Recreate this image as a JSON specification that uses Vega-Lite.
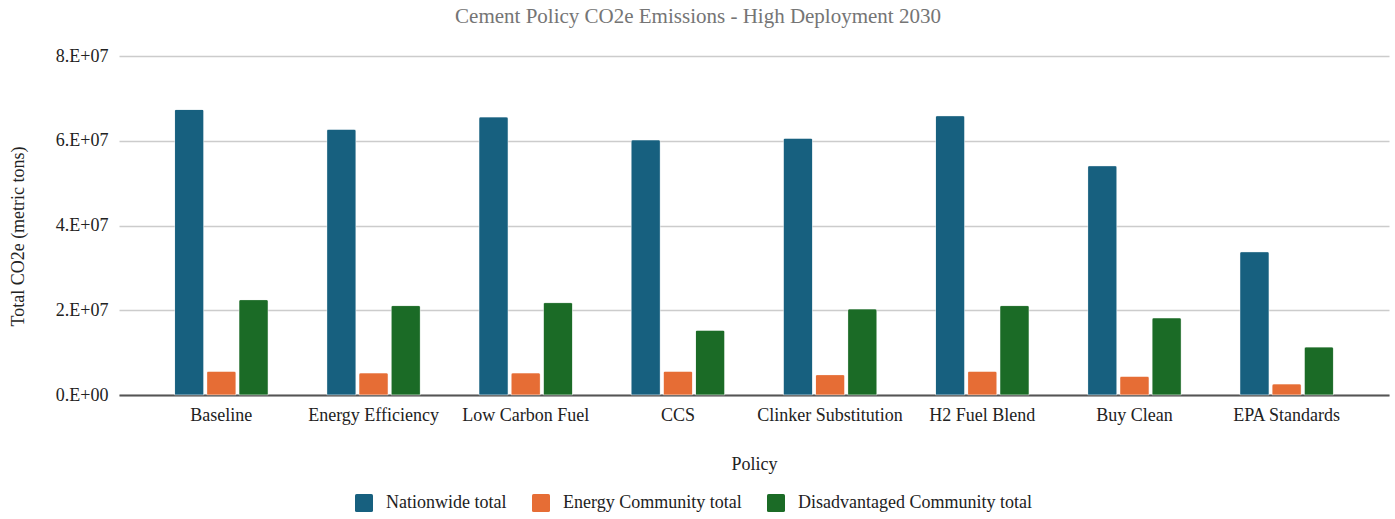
{
  "$schema": "https://vega.github.io/schema/vega-lite/v6.json",
  "autosize": {"type": "none"},
  "width": 1270,
  "height": 339,
  "padding": {"left": 119, "top": 56, "right": 6, "bottom": 124},
  "background": "#ffffff",
  "title": {
    "text": "Cement Policy CO2e Emissions - High Deployment 2030",
    "font": "Liberation Serif",
    "fontSize": 21,
    "fontWeight": "normal",
    "color": "#757575",
    "anchor": "middle",
    "baseline": "alphabetic",
    "dx": -56,
    "offset": 3
  },
  "data": {
    "values": [
      {"policy": "Baseline", "series": "Nationwide total", "value": 67400000},
      {"policy": "Baseline", "series": "Energy Community total", "value": 5600000},
      {"policy": "Baseline", "series": "Disadvantaged Community total", "value": 22500000},
      {"policy": "Energy Efficiency", "series": "Nationwide total", "value": 62700000},
      {"policy": "Energy Efficiency", "series": "Energy Community total", "value": 5200000},
      {"policy": "Energy Efficiency", "series": "Disadvantaged Community total", "value": 21100000},
      {"policy": "Low Carbon Fuel", "series": "Nationwide total", "value": 65600000},
      {"policy": "Low Carbon Fuel", "series": "Energy Community total", "value": 5200000},
      {"policy": "Low Carbon Fuel", "series": "Disadvantaged Community total", "value": 21800000},
      {"policy": "CCS", "series": "Nationwide total", "value": 60200000},
      {"policy": "CCS", "series": "Energy Community total", "value": 5600000},
      {"policy": "CCS", "series": "Disadvantaged Community total", "value": 15300000},
      {"policy": "Clinker Substitution", "series": "Nationwide total", "value": 60600000},
      {"policy": "Clinker Substitution", "series": "Energy Community total", "value": 4800000},
      {"policy": "Clinker Substitution", "series": "Disadvantaged Community total", "value": 20300000},
      {"policy": "H2 Fuel Blend", "series": "Nationwide total", "value": 65900000},
      {"policy": "H2 Fuel Blend", "series": "Energy Community total", "value": 5600000},
      {"policy": "H2 Fuel Blend", "series": "Disadvantaged Community total", "value": 21100000},
      {"policy": "Buy Clean", "series": "Nationwide total", "value": 54100000},
      {"policy": "Buy Clean", "series": "Energy Community total", "value": 4400000},
      {"policy": "Buy Clean", "series": "Disadvantaged Community total", "value": 18200000},
      {"policy": "EPA Standards", "series": "Nationwide total", "value": 33800000},
      {"policy": "EPA Standards", "series": "Energy Community total", "value": 2600000},
      {"policy": "EPA Standards", "series": "Disadvantaged Community total", "value": 11300000}
    ]
  },
  "mark": {
    "type": "bar",
    "cornerRadiusTopLeft": 2,
    "cornerRadiusTopRight": 2,
    "stroke": "#ffffff",
    "strokeOpacity": 0.35,
    "strokeWidth": 1
  },
  "encoding": {
    "x": {
      "field": "policy",
      "type": "nominal",
      "sort": null,
      "scale": {"paddingInner": 0.385, "paddingOuter": 0.365},
      "axis": {
        "title": "Policy",
        "labelAngle": 0,
        "labelFont": "Liberation Serif",
        "labelFontSize": 18,
        "labelColor": "#222222",
        "labelPadding": 11,
        "labelLimit": 0,
        "ticks": false,
        "domainColor": "#555555",
        "domainWidth": 2,
        "titleFont": "Liberation Serif",
        "titleFontSize": 18,
        "titleFontWeight": "normal",
        "titleColor": "#222222",
        "titlePadding": 31
      }
    },
    "xOffset": {
      "field": "series",
      "type": "nominal",
      "sort": ["Nationwide total", "Energy Community total", "Disadvantaged Community total"],
      "scale": {"paddingInner": 0.093, "paddingOuter": 0}
    },
    "y": {
      "field": "value",
      "type": "quantitative",
      "scale": {"domain": [0, 80000000], "nice": false},
      "axis": {
        "title": "Total CO2e (metric tons)",
        "values": [0, 20000000, 40000000, 60000000, 80000000],
        "labelExpr": "datum.value == 0 ? '0.E+00' : format(datum.value / 10000000, 'd') + '.E+07'",
        "labelFont": "Liberation Serif",
        "labelFontSize": 18,
        "labelColor": "#222222",
        "labelPadding": 11,
        "ticks": false,
        "domain": false,
        "gridColor": "#cccccc",
        "gridWidth": 1.5,
        "titleFont": "Liberation Serif",
        "titleFontSize": 18,
        "titleFontWeight": "normal",
        "titleColor": "#222222",
        "titleBaseline": "middle",
        "titleX": -101,
        "titleY": 180
      }
    },
    "color": {
      "field": "series",
      "type": "nominal",
      "scale": {
        "domain": ["Nationwide total", "Energy Community total", "Disadvantaged Community total"],
        "range": ["#17607f", "#e66d35", "#1b6b26"]
      },
      "legend": {
        "title": null,
        "orient": "none",
        "direction": "horizontal",
        "legendX": 236,
        "legendY": 438,
        "symbolType": "M-0.82,-1H0.82Q1,-1 1,-0.82V0.82Q1,1 0.82,1H-0.82Q-1,1 -1,0.82V-0.82Q-1,-1 -0.82,-1Z",
        "symbolSize": 324,
        "symbolStrokeWidth": 0,
        "symbolOpacity": 1,
        "labelFont": "Liberation Serif",
        "labelFontSize": 18,
        "labelColor": "#222222",
        "labelOffset": 13,
        "labelLimit": 0,
        "columnPadding": 25
      }
    }
  },
  "config": {
    "view": {"stroke": null}
  }
}
